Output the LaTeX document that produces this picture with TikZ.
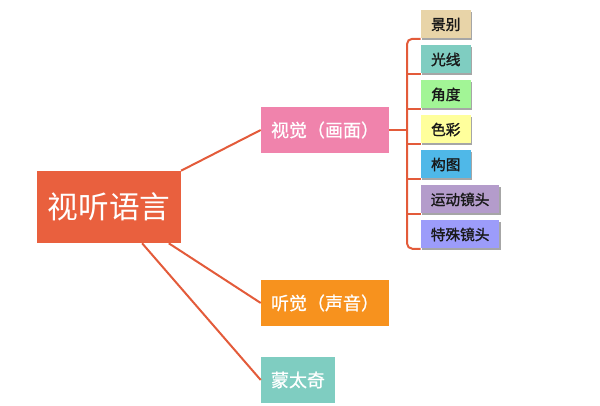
\documentclass[tikz,border=0pt]{standalone}
\usepackage{fontspec}
\setmainfont{Noto Sans CJK SC}
\newfontfamily\leaffont[FakeBold=1.6]{Noto Sans CJK SC}
\newfontfamily\midfont[FakeBold=0.8]{Noto Sans CJK SC}
\usetikzlibrary{calc,shadows}
\definecolor{linec}{HTML}{E35B3A}
\definecolor{rootc}{HTML}{E9603E}
\definecolor{visc}{HTML}{F083AC}
\definecolor{audc}{HTML}{F7921E}
\definecolor{montc}{HTML}{7FCDC1}
\definecolor{c1}{HTML}{E8D4A8}
\definecolor{c2}{HTML}{7FCDC1}
\definecolor{c3}{HTML}{A2F596}
\definecolor{c4}{HTML}{FFFF9C}
\definecolor{c5}{HTML}{4FB8E8}
\definecolor{c6}{HTML}{B49CCB}
\definecolor{c7}{HTML}{9C9CFA}
\tikzset{
  conn/.style={draw=linec, line width=1.5pt},
  rootbox/.style={fill=rootc, text=white, minimum width=107.6pt, minimum height=54pt, font=\fontsize{23}{26}\selectfont, inner sep=0pt},
  midbox/.style={text=white, minimum height=34.5pt, font=\midfont\fontsize{13.5}{16}\selectfont, inner sep=0pt},
  leafbox/.style={anchor=west, text=black!90, minimum height=21pt, font=\leaffont\fontsize{11}{13}\selectfont, inner sep=0pt,
    drop shadow={shadow xshift=0.8pt, shadow yshift=-0.8pt, opacity=0.35, fill=black}},
  twoc/.style={leafbox, minimum width=37.5pt},
  fourc/.style={leafbox, minimum width=59pt},
}
\begin{document}
\begin{tikzpicture}[x=0.75pt, y=-0.75pt]
\useasboundingbox (0,0) rectangle (600,406);
\node[rootbox] (root) at (109,207) {视听语言};
\node[midbox, fill=visc, minimum width=96pt] (vis) at (325,130) {视觉（画面）};
\node[midbox, fill=audc, minimum width=96pt] (aud) at (325,303) {听觉（声音）};
\node[midbox, fill=montc, minimum width=55.5pt] (mont) at (298,380) {蒙太奇};

\node[twoc, fill=c1] (l1) at (420.5,24.5) {景别};
\node[twoc, fill=c2] (l2) at (420.5,59.5) {光线};
\node[twoc, fill=c3] (l3) at (420.5,94.5) {角度};
\node[twoc, fill=c4] (l4) at (420.5,129.5) {色彩};
\node[twoc, fill=c5] (l5) at (420.5,164.5) {构图};
\node[fourc, fill=c6] (l6) at (420.5,199.5) {运动镜头};
\node[fourc, fill=c7] (l7) at (420.5,234.5) {特殊镜头};

\coordinate (bx) at (407,0);

\draw[conn] (root.north east) -- (vis.west);
\draw[conn] ($(root.south west)!0.915!(root.south east)$) -- (aud.west);
\draw[conn] ($(root.south west)!0.73!(root.south east)$) -- (mont.west);

\draw[conn] (vis.east) -- (vis.east -| bx);
\draw[conn, rounded corners=4pt] (l1.south west) -- (l1.south west -| bx) -- (l7.south west -| bx) -- (l7.south west);
\foreach \n in {l2,l3,l4,l5,l6}{
  \draw[conn] (\n.south west) -- (\n.south west -| bx);
}
\end{tikzpicture}
\end{document}
